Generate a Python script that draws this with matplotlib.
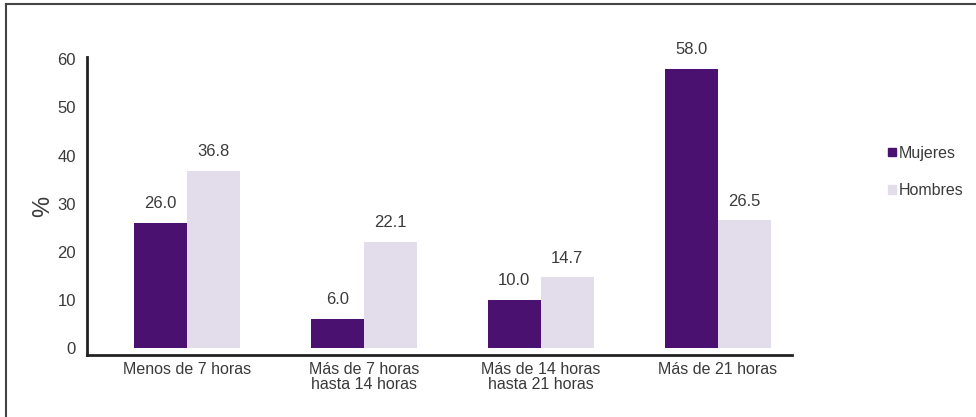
import numpy as np
import matplotlib.pyplot as plt
from matplotlib.lines import Line2D
from matplotlib.patches import Patch

categorias = ['Menos de 7 horas', 'Más de 7 horas\nhasta 14 horas',
              'Más de 14 horas\nhasta 21 horas', 'Más de 21 horas']
mujeres = [26.0, 6.0, 10.0, 58.0]
hombres = [36.8, 22.1, 14.7, 26.5]
yticks = [0, 10, 20, 30, 40, 50, 60]

c_muj = '#4a1170'
c_hom = '#e3dcea'
txt = '#3a3a3a'

plt.rcParams['font.family'] = ['Liberation Sans', 'DejaVu Sans']

fig = plt.figure(figsize=(9.76, 4.17), dpi=100)
# posición del área de datos en píxeles
ax = fig.add_axes([87 / 976, 1 - 355 / 417, (792 - 87) / 976, (355 - 57) / 417])

x = np.arange(len(categorias))
w = 0.3
b1 = ax.bar(x - w / 2, mujeres, w, color=c_muj, label='Mujeres')
b2 = ax.bar(x + w / 2, hombres, w, color=c_hom, label='Hombres')

for bars, vals in ((b1, mujeres), (b2, hombres)):
    for b, v in zip(bars, vals):
        ax.text(b.get_x() + b.get_width() / 2, b.get_height() + 2.4, f'{v:.1f}',
                ha='center', va='bottom', fontsize=12, color=txt)

ax.set_xlim(-0.565, 3.42)
ax.set_ylim(-1.5, 60.5)
ax.set_yticks(yticks)
ax.set_xticks(x)
ax.set_xticklabels(categorias, fontsize=11.5, color=txt, linespacing=1.0)
ax.tick_params(axis='y', length=0, labelsize=12, labelcolor=txt, pad=8)
ax.tick_params(axis='x', length=0, pad=5)
ax.set_ylabel('%', fontsize=17, color=txt, labelpad=2)

for s in ('top', 'right'):
    ax.spines[s].set_visible(False)
for s in ('left', 'bottom'):
    ax.spines[s].set_linewidth(2)
    ax.spines[s].set_color('#222222')

handles = [Patch(color=c_muj), Patch(color=c_hom)]
fig.legend(handles, ['Mujeres', 'Hombres'], loc='center left',
           bbox_to_anchor=(874 / 976, 1 - 172 / 417), frameon=False,
           handlelength=0.45, handleheight=0.45, handletextpad=0.2,
           labelspacing=1.4, fontsize=11.5, labelcolor=txt)

# marco del gráfico (arriba e izquierda)
fig.add_artist(Line2D([6 / 976, 1], [1 - 4 / 417, 1 - 4 / 417], color='#444444', lw=1.5))
fig.add_artist(Line2D([6 / 976, 6 / 976], [0, 1 - 4 / 417], color='#444444', lw=1.5))

fig.savefig('out.png', dpi=100)
